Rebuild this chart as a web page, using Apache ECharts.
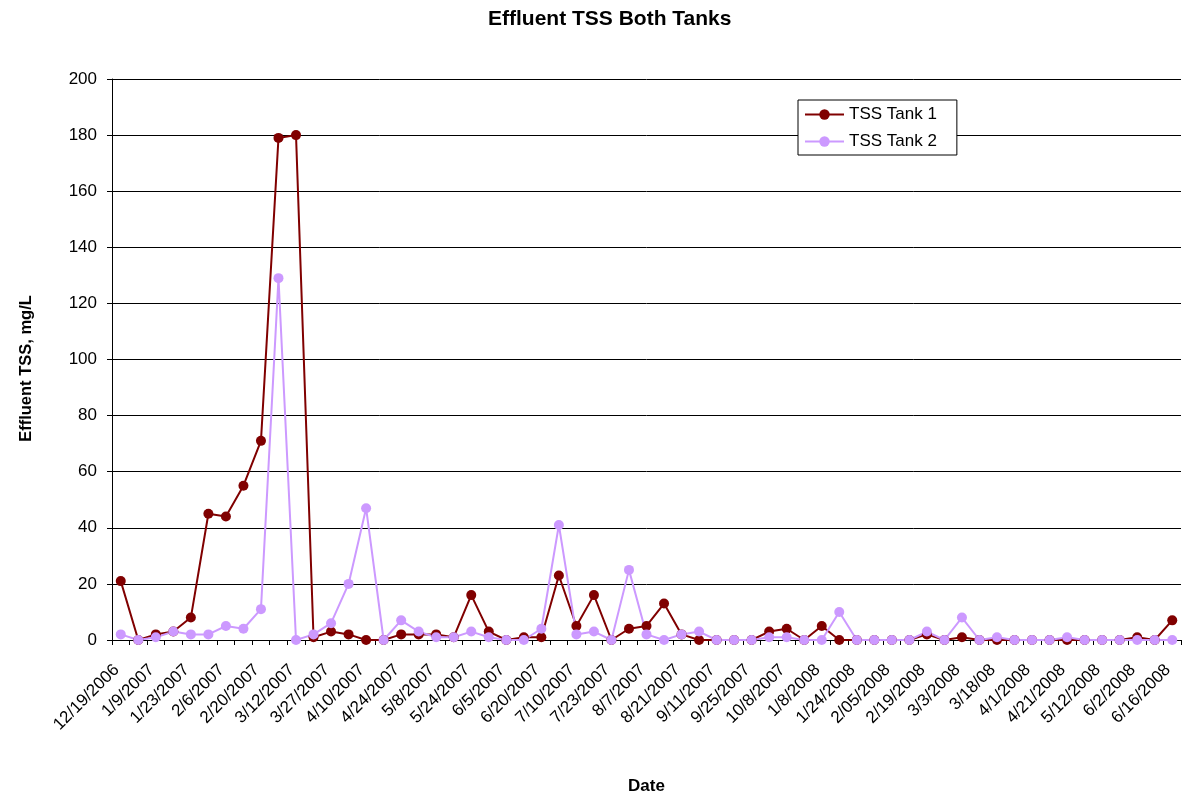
<!DOCTYPE html>
<html>
<head>
<meta charset="utf-8">
<script src="https://cdn.jsdelivr.net/npm/echarts@6/dist/echarts.min.js"></script>
<style>
html,body{margin:0;padding:0;background:#fff;}
#chart{width:1182px;height:801px;}
</style>
</head>
<body>
<div id="chart"></div>
<script>
// Category labels (only every other date is printed on the axis; unlabeled samples left blank)
const labeledDates = ['12/19/2006','1/9/2007','1/23/2007','2/6/2007','2/20/2007','3/12/2007','3/27/2007','4/10/2007','4/24/2007','5/8/2007','5/24/2007','6/5/2007','6/20/2007','7/10/2007','7/23/2007','8/7/2007','8/21/2007','9/11/2007','9/25/2007','10/8/2007','1/8/2008','1/24/2008','2/05/2008','2/19/2008','3/3/2008','3/18/08','4/1/2008','4/21/2008','5/12/2008','6/2/2008','6/16/2008'];
const categories = [];
labeledDates.forEach(function(d, i){ categories.push(d); if (i < labeledDates.length - 1) categories.push(''); });

const tank1 = [21,0,2,3,8,45,44,55,71,179,180,1,3,2,0,0,2,2,2,1,16,3,0,1,1,23,5,16,0,4,5,13,2,0,0,0,0,3,4,0,5,0,0,0,0,0,2,0,1,0,0,0,0,0,0,0,0,0,1,0,7];
const tank2 = [2,0,1,3,2,2,5,4,11,129,0,2,6,20,47,0,7,3,1,1,3,1,0,0,4,41,2,3,0,25,2,0,2,3,0,0,0,1,1,0,0,10,0,0,0,0,3,0,8,0,1,0,0,0,1,0,0,0,0,0,0];
const yTicks = [0,20,40,60,80,100,120,140,160,180,200];

const font = 'Arial, "Liberation Sans", sans-serif';
const chart = echarts.init(document.getElementById('chart'), null, {renderer:'canvas'});
chart.setOption({
  animation:false,
  backgroundColor:'#fff',
  title:{text:'Effluent TSS Both Tanks', left:483, top:4,
    textStyle:{fontFamily:font, fontSize:21, fontWeight:'bold', color:'#000'}},
  legend:{
    orient:'vertical', left:798, top:100,
    backgroundColor:'#fff', borderColor:'#000', borderWidth:1,
    padding:[6,20,5,6], itemGap:10, itemWidth:39, itemHeight:13,
    textStyle:{fontFamily:font, fontSize:17, color:'#000'},
    data:['TSS Tank 1','TSS Tank 2']
  },
  grid:{left:112, right:1, top:79, bottom:161, containLabel:false},
  xAxis:{
    type:'category', data:categories, boundaryGap:true,
    name:'Date', nameLocation:'middle', nameGap:138,
    nameTextStyle:{fontFamily:font, fontSize:17, fontWeight:'bold', color:'#000'},
    axisLine:{lineStyle:{color:'#000', width:1}},
    axisTick:{show:true, interval:0, length:5, lineStyle:{color:'#000'}},
    axisLabel:{interval:0, rotate:45, margin:23, padding:[0,6,0,0], fontFamily:font, fontSize:17, color:'#000'},
    splitLine:{show:false}
  },
  yAxis:{
    type:'value', min:yTicks[0], max:yTicks[yTicks.length-1], interval:20,
    name:'Effluent TSS, mg/L', nameLocation:'middle', nameGap:77, nameRotate:90,
    nameTextStyle:{fontFamily:font, fontSize:16.5, fontWeight:'bold', color:'#000', padding:[0,18,0,0]},
    axisLine:{show:true, lineStyle:{color:'#000', width:1}},
    axisTick:{show:true, length:5, lineStyle:{color:'#000'}},
    axisLabel:{margin:15, fontFamily:font, fontSize:17, color:'#000'},
    splitLine:{show:true, lineStyle:{color:'#000', width:1}}
  },
  series:[
    {name:'TSS Tank 1', type:'line', data:tank1, color:'#800000',
      symbol:'circle', symbolSize:10, lineStyle:{width:2, color:'#800000'},
      itemStyle:{color:'#800000'}},
    {name:'TSS Tank 2', type:'line', data:tank2, color:'#CC99FF',
      symbol:'circle', symbolSize:10, lineStyle:{width:2, color:'#CC99FF'},
      itemStyle:{color:'#CC99FF'}}
  ]
});
</script>
</body>
</html>
